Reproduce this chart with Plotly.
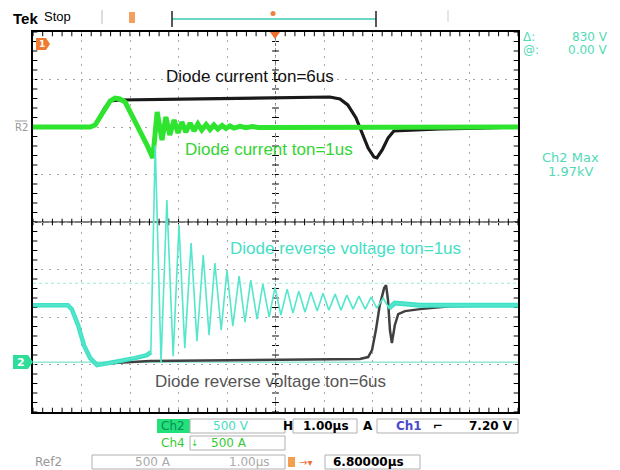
import plotly.graph_objects as go

# ---------------- data ----------------
# time in microseconds from the left edge of the screen (1.00 us/div, 10 div)
# Ref2: diode current, ton = 6 us  (A)
t_cur6 = [0.00, 1.18, 1.28, 1.38, 1.48, 1.59, 1.79, 3.44, 5.09, 6.12, 6.33, 6.49, 6.66,
          6.78, 6.91, 7.03, 7.09, 7.20, 7.32, 7.44, 7.77, 8.39, 9.22, 10.00]
i_cur6 = [0, 0, 21, 105, 200, 274, 284, 295, 305, 316, 295, 232, 95,
          -53, -221, -316, -326, -242, -116, -42, -32, -21, -11, 0]

# Ch4: diode current, ton = 1 us  (A)
t_cur1 = [0.00, 1.18, 1.28, 1.38, 1.48, 1.59, 1.69, 1.79, 1.90, 2.06, 2.21, 2.35, 2.47,
          2.56, 2.66, 2.74, 2.82, 2.91, 2.99, 3.07, 3.15, 3.24, 3.32, 3.40, 3.48, 3.57,
          3.65, 3.73, 3.81, 3.90, 3.98, 4.06, 4.14, 4.27, 4.39, 4.52, 4.64, 10.00]
i_cur1 = [0, 0, 21, 105, 200, 274, 305, 295, 263, 105, -32, -189, -326,
          158, -137, 105, -84, 74, -63, 53, -53, 42, -42, 32, -32, 26,
          -26, 21, -21, 16, -16, 11, -11, 8, -8, 5, -5, 0]

# Ch2: diode reverse voltage, ton = 1 us  (V)
t_v1 = [0.00, 0.72, 0.80, 0.93, 1.05, 1.18, 1.32, 1.48, 1.79, 2.10, 2.35, 2.43,
        2.52, 2.64, 2.76, 2.89, 3.01, 3.13, 3.26, 3.38, 3.51, 3.63,
        3.75, 3.88, 4.00, 4.12, 4.25, 4.37, 4.49, 4.62, 4.74, 4.87,
        4.99, 5.11, 5.24, 5.36, 5.48, 5.61, 5.73, 5.86, 5.98, 6.10,
        6.23, 6.35, 6.47, 6.60, 6.72, 6.85, 6.97, 7.09, 7.22, 7.34,
        7.46, 7.98, 10.00]
v_v1 = [600, 600, 558, 389, 179, 42, -32, -21, 11, 42, 74, 105,
        2284, 0, 1705, 63, 1442, 147, 1253, 221, 1126, 284,
        1042, 337, 968, 379, 905, 421, 863, 453, 821, 474,
        789, 495, 768, 516, 747, 526, 737, 537, 726, 547,
        716, 547, 705, 558, 695, 558, 684, 568, 674, 568,
        621, 600, 600]

# diode reverse voltage, ton = 6 us  (V)
t_v6 = [0.00, 0.72, 0.80, 0.93, 1.05, 1.18, 1.32, 1.59, 2.41, 4.47, 6.74, 6.91, 6.99,
        7.07, 7.15, 7.24, 7.28, 7.32, 7.36, 7.40, 7.46, 7.53, 7.67, 7.98, 8.60, 10.00]
v_v6 = [600, 600, 558, 389, 179, 42, -32, -11, 11, 21, 32, 53, 126,
        337, 600, 779, 811, 653, 337, 200, 389, 505, 537, 558, 589, 600]

cursor_volts = [830, 0]

# ---------------- geometry helpers ----------------
W, H = 620, 470
L, R, T, B = 33, 102, 32, 58
PW, PH = W - L - R, H - T - B


def fx(px):
    return (px - L) / PW


def fy(py):
    return (H - B - py) / PH


UI = "DejaVu Sans"
SANS = "Liberation Sans, Arial"
CYAN = "#3fe2c4"
GREEN = "#2ee42e"

fig = go.Figure()

fig.add_trace(go.Scatter(x=t_v6, y=v_v6, yaxis="y3", mode="lines",
                         line=dict(color="#404040", width=2.5), hoverinfo="skip"))
# slow (flat) parts of Ch2 look thicker on the scope screen
fig.add_trace(go.Scatter(x=t_v1[:12], y=v_v1[:12], yaxis="y3", mode="lines",
                         line=dict(color=CYAN, width=4.5), hoverinfo="skip"))
fig.add_trace(go.Scatter(x=t_v1[-4:], y=v_v1[-4:], yaxis="y3", mode="lines",
                         line=dict(color=CYAN, width=5), hoverinfo="skip"))
fig.add_trace(go.Scatter(x=t_v1, y=v_v1, yaxis="y3", mode="lines",
                         line=dict(color="#55e6cc", width=1.6), hoverinfo="skip"))
fig.add_trace(go.Scatter(x=t_cur6, y=i_cur6, yaxis="y2", mode="lines",
                         line=dict(color="#1a1a1a", width=3.2), hoverinfo="skip"))
fig.add_trace(go.Scatter(x=t_cur1, y=i_cur1, yaxis="y2", mode="lines",
                         line=dict(color=GREEN, width=5), hoverinfo="skip"))

shapes = []
# centre cross
shapes.append(dict(type="line", xref="x", yref="y", x0=0, x1=10, y0=0, y1=0,
                   line=dict(color="black", width=1), layer="below"))
shapes.append(dict(type="line", xref="x", yref="y", x0=5, x1=5, y0=-4, y1=4,
                   line=dict(color="#777777", width=1, dash="dot"), layer="below"))
for k in range(51):
    xv = k * 0.2
    shapes.append(dict(type="line", xref="x", yref="y", x0=xv, x1=xv, y0=-0.07, y1=0.07,
                       line=dict(color="black", width=1), layer="below"))
    # border ticks top / bottom
    shapes.append(dict(type="line", xref="x", yref="y", x0=xv, x1=xv, y0=-4, y1=-3.91,
                       line=dict(color="black", width=1), layer="below"))
    shapes.append(dict(type="line", xref="x", yref="y", x0=xv, x1=xv, y0=4, y1=3.91,
                       line=dict(color="black", width=1), layer="below"))
for k in range(41):
    yv = -4 + k * 0.2
    shapes.append(dict(type="line", xref="x", yref="y", x0=4.93, x1=5.07, y0=yv, y1=yv,
                       line=dict(color="black", width=1), layer="below"))
    shapes.append(dict(type="line", xref="x", yref="y", x0=0, x1=0.09, y0=yv, y1=yv,
                       line=dict(color="black", width=1), layer="below"))
    shapes.append(dict(type="line", xref="x", yref="y", x0=10, x1=9.91, y0=yv, y1=yv,
                       line=dict(color="black", width=1), layer="below"))
# cursors
shapes.append(dict(type="line", xref="x", yref="y3", x0=0, x1=10, y0=cursor_volts[0], y1=cursor_volts[0],
                   line=dict(color="#9eeadc", width=1, dash="dot"), layer="below"))
shapes.append(dict(type="line", xref="x", yref="y3", x0=0, x1=10, y0=cursor_volts[1], y1=cursor_volts[1],
                   line=dict(color="#5fdcc4", width=1), layer="below"))


def pline(x0, y0, x1, y1, color, width=1):
    shapes.append(dict(type="line", xref="paper", yref="paper", x0=fx(x0), x1=fx(x1),
                       y0=fy(y0), y1=fy(y1), line=dict(color=color, width=width)))


def prect(x0, y0, x1, y1, fill=None, line="#b0b0b0"):
    shapes.append(dict(type="rect", xref="paper", yref="paper", x0=fx(x0), x1=fx(x1),
                       y0=fy(y0), y1=fy(y1), fillcolor=fill if fill else "rgba(0,0,0,0)",
                       line=dict(color=line, width=1 if line else 0)))


def ppath(pts, fill):
    d = "M " + " L ".join(f"{fx(a):.5f},{fy(b):.5f}" for a, b in pts) + " Z"
    shapes.append(dict(type="path", xref="paper", yref="paper", path=d,
                       fillcolor=fill, line=dict(width=0)))


# top bar
pline(102, 10, 102, 24, "#bbbbbb")
pline(448, 10, 448, 22, "#cccccc")
prect(129, 12, 135, 23, fill="#f2a060", line=None)
pline(172, 19, 376, 19, "#6ad8c4", 2)
pline(172, 11, 172, 27, "#222222", 1.5)
pline(376, 11, 376, 27, "#222222", 1.5)
shapes.append(dict(type="circle", xref="paper", yref="paper", x0=fx(270.5), x1=fx(275.5),
                   y0=fy(11), y1=fy(16), fillcolor="#f08040", line=dict(width=0)))
# trigger position marker
ppath([(270, 32), (280, 32), (275, 39)], "#f07030")
# channel markers
ppath([(36, 38), (46, 38), (50, 44), (46, 50), (36, 50)], "#f07a30")
ppath([(13, 355), (28, 355), (33, 362), (28, 369), (13, 369)], "#30dc9a")
pline(15, 121, 27, 121, "#999999")

# bottom readout boxes
prect(157, 419, 190, 433, fill="#22e07a", line=None)
prect(190, 419, 285, 433)
prect(293, 419, 357, 433)
prect(377, 419, 518, 433)
prect(190, 436, 285, 450)
prect(92, 455, 285, 469)
prect(288, 457, 295, 467, fill="#f0a050", line=None)
prect(325, 455, 420, 469)

ann = []


def text(x, y, s, color="black", size=12, family=UI, anchor="center", bold=False):
    if bold:
        s = f"<b>{s}</b>"
    ann.append(dict(xref="paper", yref="paper", x=fx(x), y=fy(y), text=s, showarrow=False,
                    xanchor=anchor, yanchor="middle",
                    font=dict(color=color, size=size, family=family)))


# trace labels
text(250, 76, "Diode current ton=6us", "#111111", 17, SANS)
text(269, 149, "Diode current ton=1us", "#33d433", 17, SANS)
text(345, 248, "Diode reverse voltage ton=1us", "#45e0c6", 17, SANS)
text(270, 381, "Diode reverse voltage ton=6us", "#555555", 17, SANS)

# header
text(11, 18, "Tek", "black", 15, SANS, "left", bold=True)
text(42, 17, "Stop", "black", 13, SANS, "left")

# marker texts
text(42, 44, "1", "white", 9, UI, bold=True)
text(21, 362, "2", "white", 11, UI, bold=True)
text(21, 127, "R2", "#999999", 10, UI)

# right readouts
text(521, 37, "Δ:", "#52dab6", 12, UI, "left")
text(610, 37, "830 V", "#52dab6", 12, UI, "right")
text(521, 50, "@:", "#52dab6", 12, UI, "left")
text(610, 50, "0.00 V", "#52dab6", 12, UI, "right")
text(570, 157, "Ch2 Max", "#52dab6", 13, UI)
text(570, 171, "1.97kV", "#52dab6", 13, UI)

# bottom readouts
text(173, 426, "Ch2", "#0e8a5a", 12, UI)
text(231, 426, "500 V", "#45dcc0", 12, UI)
text(288, 426, "H", "black", 12, UI, bold=True)
text(326, 426, "1.00µs", "black", 12, UI, bold=True)
text(368, 426, "A", "black", 12, UI, bold=True)
text(409, 426, "Ch1", "#4a4acc", 12, UI, bold=True)
text(438, 426, "⌐", "black", 12, UI, bold=True)
text(491, 426, "7.20 V", "black", 12, UI, bold=True)
text(173, 443, "Ch4", "#33cc33", 12, UI)
text(195, 443, "↓", "#33cc33", 9, UI)
text(229, 443, "500 A", "#33cc33", 12, UI)
text(48, 462, "Ref2", "#999999", 12, UI)
text(153, 462, "500 A", "#aaaaaa", 12, UI)
text(249, 462, "1.00µs", "#aaaaaa", 12, UI)
text(305, 462, "→▾", "#f07040", 10, UI)
text(368, 462, "6.80000µs", "black", 12, UI, bold=True)

axis_common = dict(showgrid=True, gridcolor="#a8a8a8", griddash="2px,6px", gridwidth=1,
                   showline=True, linecolor="black", linewidth=2, mirror=True,
                   ticks="", showticklabels=False,
                   zeroline=False, fixedrange=True)

fig.update_layout(
    width=W, height=H,
    margin=dict(l=L, r=R, t=T, b=B),
    paper_bgcolor="white", plot_bgcolor="white",
    showlegend=False, hovermode=False,
    xaxis=dict(range=[0, 10], dtick=1, **axis_common),
    yaxis=dict(range=[-4, 4], dtick=1, **axis_common),
    yaxis2=dict(range=[-3000, 1000], overlaying="y", visible=False, fixedrange=True),
    yaxis3=dict(range=[-525, 3475], overlaying="y", visible=False, fixedrange=True),
    shapes=shapes,
    annotations=ann,
)

fig.write_html("out.html", config={"displayModeBar": False},
               post_script="document.body.style.margin='0';document.body.style.overflow='hidden';")
